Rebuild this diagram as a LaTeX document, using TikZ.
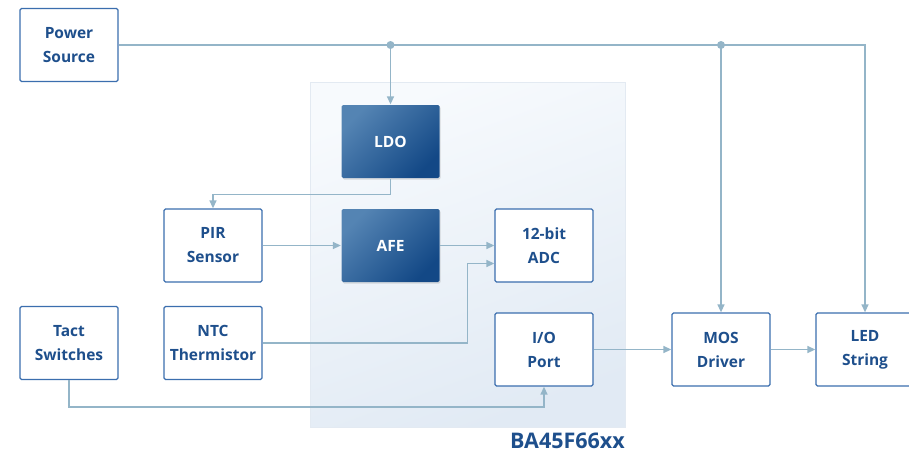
\documentclass[tikz,border=0pt]{standalone}
\usepackage{fontspec}
\setmainfont{Open Sans}
\usetikzlibrary{arrows.meta,shadows}
\definecolor{boxblue}{HTML}{3B6EAE}
\definecolor{txtblue}{HTML}{1E4F8C}
\definecolor{wirecol}{HTML}{94B5C8}
\definecolor{darktl}{HTML}{5484B3}
\definecolor{darkbr}{HTML}{134886}
\definecolor{chiptop}{HTML}{F7FAFD}
\definecolor{chipbot}{HTML}{E1EAF4}
\definecolor{chipedge}{HTML}{E3EAF2}
\begin{document}
\begin{tikzpicture}[x=1pt,y=-1pt,
  blk/.style={draw=boxblue,line width=1.3pt,fill=white,rounded corners=1.5pt,
    minimum width=98pt,minimum height=73pt,align=center,inner sep=0pt,
    font=\bfseries\fontsize{15.5}{24}\selectfont,text=txtblue},
  dark/.style={blk,draw=none,top color=darktl,bottom color=darkbr,shading angle=45,
    text=white,drop shadow={opacity=0.25,shadow xshift=1pt,shadow yshift=-1.5pt}},
  wire/.style={draw=wirecol,line width=1.4pt},
  arr/.style={wire,-{Triangle[length=8pt,width=7pt]}}]
\useasboundingbox (0,0) rectangle (909,458);
% chip background
\shade[top color=chiptop,bottom color=chipbot,shading angle=20] (310,82) rectangle (625,427);
\draw[chipedge,line width=0.8pt] (310,82) rectangle (625,427);
% nodes
\node[blk] (pwr) at (69,45) {Power\\Source};
\node[dark] (ldo) at (390.5,141.5) {LDO};
\node[blk] (pir) at (213,245.5) {PIR\\Sensor};
\node[dark] (afe) at (390.5,245.5) {AFE};
\node[blk] (adc) at (544,245.5) {12-bit\\ADC};
\node[blk] (tact) at (69,343) {Tact\\Switches};
\node[blk] (ntc) at (213,343) {NTC\\Thermistor};
\node[blk] (io) at (544,349.5) {I/O\\Port};
\node[blk] (mos) at (721,349.5) {MOS\\Driver};
\node[blk] (led) at (865,349.5) {LED\\String};
\node[anchor=east,inner sep=0pt,text=txtblue,font=\bfseries\fontsize{21.5}{24}\selectfont] (chipname) at (625,441) {BA45F66xx};
% junctions
\coordinate (j1) at (390.5,45);
\coordinate (j2) at (721,45);
% wires
\draw[arr] (pwr.east) -- (j2) -| (led.north);
\draw[arr] (j1) -- (ldo.north);
\draw[arr] (j2) -- (mos.north);
\fill[wirecol] (j1) circle (4pt);
\fill[wirecol] (j2) circle (4pt);
\draw[arr] (ldo.south) -- ++(0,16) -| (pir.north);
\draw[arr] (pir) -- (afe);
\draw[arr] (afe) -- (adc);
\draw[arr] (ntc.east) -- ++(205,0) |- ([yshift=-18pt]adc.west);
\draw[arr] (tact.south) -- ++(0,27) -| (io.south);
\draw[arr] (io) -- (mos);
\draw[arr] (mos) -- (led);
\end{tikzpicture}
\end{document}
